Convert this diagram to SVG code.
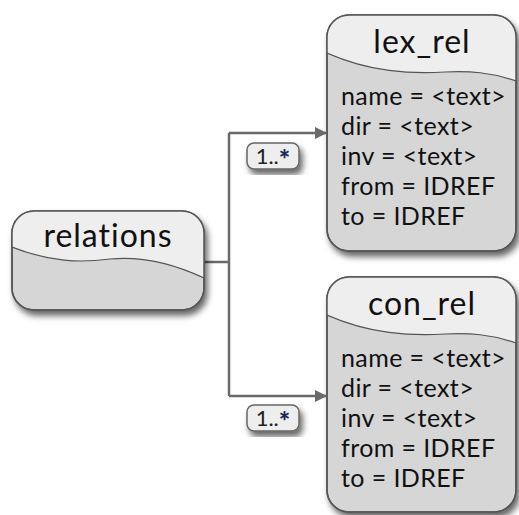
<svg xmlns="http://www.w3.org/2000/svg" width="519" height="515" viewBox="0 0 519 515">
<style>
.box{fill:#d6d6d6;stroke:#555;stroke-width:1.5}
.head{fill:#eeeeee;stroke:none}
.wave{fill:none;stroke:#555;stroke-width:1.2}
.title{font-family:Lato,"Open Sans",sans-serif;font-size:32px;letter-spacing:1px;fill:#111;text-anchor:middle}
.attr{font-family:Lato,"Open Sans",sans-serif;font-size:25px;letter-spacing:0.4px;fill:#111}
.conn{fill:none;stroke:#6a6a6a;stroke-width:2.5}
.lbl{fill:#eeeeee;stroke:#666;stroke-width:1.5}
.mult{font-family:Lato,"Open Sans",sans-serif;font-size:22px;fill:#222}
.star{font-weight:900;font-size:27px;fill:#1a2a5a}
</style>
<defs>
<filter id="sh" x="-20%" y="-20%" width="140%" height="140%">
<feDropShadow dx="3" dy="5" stdDeviation="3" flood-color="#000" flood-opacity="0.6"/>
</filter>
<marker id="arr" viewBox="0 0 12 12" refX="11" refY="6" markerWidth="12" markerHeight="12" markerUnits="userSpaceOnUse" orient="auto">
<path d="M0,0 L12,6 L0,12 Z" fill="#6a6a6a"/>
</marker>
<clipPath id="cRel"><rect x="12" y="211" width="192" height="99" rx="22"/></clipPath>
<clipPath id="cLex"><rect x="327" y="15" width="189" height="236" rx="22"/></clipPath>
<clipPath id="cCon"><rect x="327" y="277" width="189" height="235" rx="22"/></clipPath>
</defs>

<g id="connectors">
<path class="conn" d="M204,262 H229"/>
<path class="conn" d="M229,133 V396"/>
<path class="conn" d="M229,133 H326" marker-end="url(#arr)"/>
<path class="conn" d="M229,396 H326" marker-end="url(#arr)"/>
</g>

<g id="relations">
<rect class="box" x="12" y="211" width="192" height="99" rx="22" filter="url(#sh)"/>
<path class="head" clip-path="url(#cRel)" d="M12,211 H204 V278 C170,262 140,256 110,259 C80,263 50,262 12,247 Z"/>
<path class="wave" clip-path="url(#cRel)" d="M12,247 C50,262 80,263 110,259 C140,256 170,262 204,278"/>
<rect x="12" y="211" width="192" height="99" rx="22" fill="none" stroke="#555" stroke-width="1.5"/>
<text class="title" x="108" y="247">relations</text>
</g>

<g id="lex_rel">
<rect class="box" x="327" y="15" width="189" height="236" rx="22" filter="url(#sh)"/>
<path class="head" clip-path="url(#cLex)" d="M327,15 H516 V81 C490,72 470,71 445,72 C410,74 370,72 327,53 Z"/>
<path class="wave" clip-path="url(#cLex)" d="M327,53 C370,72 410,74 445,72 C470,71 490,72 516,81"/>
<rect x="327" y="15" width="189" height="236" rx="22" fill="none" stroke="#555" stroke-width="1.5"/>
<text class="title" x="422" y="53">lex_rel</text>
<text class="attr" x="341" y="105">name = &lt;text&gt;</text>
<text class="attr" x="341" y="135">dir = &lt;text&gt;</text>
<text class="attr" x="341" y="165">inv = &lt;text&gt;</text>
<text class="attr" x="341" y="195">from = IDREF</text>
<text class="attr" x="341" y="225">to = IDREF</text>
</g>

<g id="con_rel">
<rect class="box" x="327" y="277" width="189" height="235" rx="22" filter="url(#sh)"/>
<path class="head" clip-path="url(#cCon)" d="M327,277 H516 V343 C490,334 470,333 445,334 C410,336 370,334 327,315 Z"/>
<path class="wave" clip-path="url(#cCon)" d="M327,315 C370,334 410,336 445,334 C470,333 490,334 516,343"/>
<rect x="327" y="277" width="189" height="235" rx="22" fill="none" stroke="#555" stroke-width="1.5"/>
<text class="title" x="422" y="315">con_rel</text>
<text class="attr" x="341" y="367">name = &lt;text&gt;</text>
<text class="attr" x="341" y="397">dir = &lt;text&gt;</text>
<text class="attr" x="341" y="427">inv = &lt;text&gt;</text>
<text class="attr" x="341" y="457">from = IDREF</text>
<text class="attr" x="341" y="487">to = IDREF</text>
</g>

<g id="label1">
<rect class="lbl" x="247" y="143" width="52" height="26" rx="7" filter="url(#sh)"/>
<text class="mult" x="273" y="164" text-anchor="middle">1..<tspan class="star" dy="5">*</tspan></text>
</g>
<g id="label2">
<rect class="lbl" x="247" y="405" width="52" height="26" rx="7" filter="url(#sh)"/>
<text class="mult" x="273" y="426" text-anchor="middle">1..<tspan class="star" dy="5">*</tspan></text>
</g>
</svg>
